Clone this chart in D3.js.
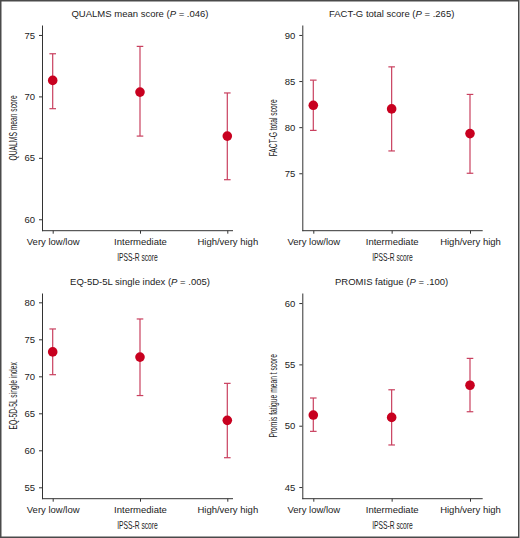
<!DOCTYPE html>
<html>
<head>
<meta charset="utf-8">
<script src="https://cdn.jsdelivr.net/npm/d3@7"></script>
<style>
  body { margin: 0; background: #fff; }
  svg { display: block; }
</style>
</head>
<body>
<div id="chart"></div>
<script>
// categories shared by all four panels
var categories = ["Very low/low", "Intermediate", "High/very high"];

// QUALMS mean score
var qualmsMean  = [71.3, 70.35, 66.77];
var qualmsLower = [69.0, 66.77, 63.22];
var qualmsUpper = [73.47, 74.07, 70.28];

// FACT-G total score
var factgMean  = [82.37, 81.98, 79.3];
var factgLower = [79.65, 77.42, 75.0];
var factgUpper = [85.1, 86.54, 83.55];

// EQ-5D-5L single index
var eqMean  = [73.3, 72.6, 64.05];
var eqLower = [70.22, 67.4, 59.0];
var eqUpper = [76.4, 77.75, 69.05];

// PROMIS fatigue
var promisMean  = [50.87, 50.68, 53.3];
var promisLower = [49.54, 48.43, 51.14];
var promisUpper = [52.26, 52.93, 55.49];

// tick labels
var qualmsTicks = [60, 65, 70, 75];
var factgTicks  = [75, 80, 85, 90];
var eqTicks     = [55, 60, 65, 70, 75, 80];
var promisTicks = [45, 50, 55, 60];

var panels = [
  { title: "QUALMS mean score", p: ".046", ylab: "QUALMS mean score",
    mean: qualmsMean, lower: qualmsLower, upper: qualmsUpper, ticks: qualmsTicks,
    domain: [59.07, 75.81], col: 0, row: 0 },
  { title: "FACT-G total score", p: ".265", ylab: "FACT-G total score",
    mean: factgMean, lower: factgLower, upper: factgUpper, ticks: factgTicks,
    domain: [68.77, 91.08], col: 1, row: 0 },
  { title: "EQ-5D-5L single index", p: ".005", ylab: "EQ-5D-5L single index",
    mean: eqMean, lower: eqLower, upper: eqUpper, ticks: eqTicks,
    domain: [53.46, 81.26], col: 0, row: 1 },
  { title: "PROMIS fatigue", p: ".100", ylab: "Promis fatigue mean t score",
    mean: promisMean, lower: promisLower, upper: promisUpper, ticks: promisTicks,
    domain: [44.05, 60.82], col: 1, row: 1 }
];

// layout of columns / rows
var cols = [
  { left: 42, right: 233, first: 52.7, last: 227.3 },
  { left: 302.3, right: 482.7, first: 313.3, last: 470 }
];
var rows = [
  { top: 25, bottom: 230.7 },
  { top: 293, bottom: 498.7 }
];

var W = 520, H = 538;
var dotColor = "#c8001f";
var barColor = "#c9405f";
var textColor = "#222";
var regular = "'Liberation Sans', Arial, Helvetica, sans-serif";
var squeeze = 0.64;   // axis titles are set in a condensed face

var svg = d3.select("#chart")
  .append("svg")
  .attr("width", W)
  .attr("height", H);

svg.append("rect")
  .attr("width", W)
  .attr("height", H)
  .attr("fill", "#fff");

panels.forEach(function(pn) {
  var c = cols[pn.col], r = rows[pn.row];

  var x = d3.scalePoint()
    .domain(categories)
    .range([c.first, c.last]);

  var y = d3.scaleLinear()
    .domain(pn.domain)
    .range([r.bottom, r.top]);

  var g = svg.append("g");

  // X axis
  var xa = g.append("g")
    .attr("transform", "translate(0," + r.bottom + ")")
    .call(d3.axisBottom(x).tickSize(3).tickSizeOuter(0).tickPadding(5));
  xa.select(".domain").attr("d", "M" + c.left + ",0H" + c.right);

  // Y axis
  var ya = g.append("g")
    .attr("transform", "translate(" + c.left + ",0)")
    .call(d3.axisLeft(y).tickValues(pn.ticks).tickSize(3).tickSizeOuter(0).tickPadding(4));

  g.selectAll(".domain, .tick line")
    .attr("stroke", "#333")
    .attr("stroke-width", 1);
  g.selectAll(".tick text")
    .attr("fill", textColor)
    .style("font-family", regular)
    .style("font-size", "9.5px");

  // title
  var t = g.append("text")
    .attr("x", x(categories[1]))
    .attr("y", r.top - 8)
    .attr("text-anchor", "middle")
    .attr("fill", textColor)
    .style("font-family", regular)
    .style("font-size", "9.5px");
  t.append("tspan").text(pn.title + " (");
  t.append("tspan").style("font-style", "italic").text("P");
  t.append("tspan").text(" = " + pn.p + ")");

  // y label
  g.append("text")
    .attr("transform", "translate(" + (c.left - 25) + "," + ((r.top + r.bottom) / 2) + ")rotate(-90)scale(" + squeeze + ",1)")
    .attr("text-anchor", "middle")
    .attr("fill", textColor)
    .style("font-family", regular)
    .style("font-size", "10.5px")
    .text(pn.ylab);

  // x label
  g.append("text")
    .attr("transform", "translate(" + ((c.left + c.right) / 2) + "," + (r.bottom + 30.5) + ")scale(" + squeeze + ",1)")
    .attr("text-anchor", "middle")
    .attr("fill", textColor)
    .style("font-family", regular)
    .style("font-size", "10.5px")
    .text("IPSS-R score");

  var rowsData = categories.map(function(cat, i) {
    return { cat: cat, mean: pn.mean[i], lo: pn.lower[i], hi: pn.upper[i] };
  });

  // error bars
  var eb = g.selectAll(".eb")
    .data(rowsData)
    .enter()
    .append("g")
    .attr("class", "eb");

  eb.append("line")
    .attr("x1", function(d) { return x(d.cat); })
    .attr("x2", function(d) { return x(d.cat); })
    .attr("y1", function(d) { return y(d.lo); })
    .attr("y2", function(d) { return y(d.hi); })
    .attr("stroke", barColor)
    .attr("stroke-width", 1.2);

  ["lo", "hi"].forEach(function(k) {
    eb.append("line")
      .attr("x1", function(d) { return x(d.cat) - 3.3; })
      .attr("x2", function(d) { return x(d.cat) + 3.3; })
      .attr("y1", function(d) { return y(d[k]); })
      .attr("y2", function(d) { return y(d[k]); })
      .attr("stroke", barColor)
      .attr("stroke-width", 1.2);
  });

  // means
  g.selectAll(".dot")
    .data(rowsData)
    .enter()
    .append("circle")
    .attr("class", "dot")
    .attr("cx", function(d) { return x(d.cat); })
    .attr("cy", function(d) { return y(d.mean); })
    .attr("r", 4.8)
    .attr("fill", dotColor);
});

// outer frame
svg.append("rect")
  .attr("x", 0.75)
  .attr("y", 0.75)
  .attr("width", W - 2)
  .attr("height", H - 1.5)
  .attr("fill", "none")
  .attr("stroke", "#4a4a4a")
  .attr("stroke-width", 1.5);
</script>
</body>
</html>
